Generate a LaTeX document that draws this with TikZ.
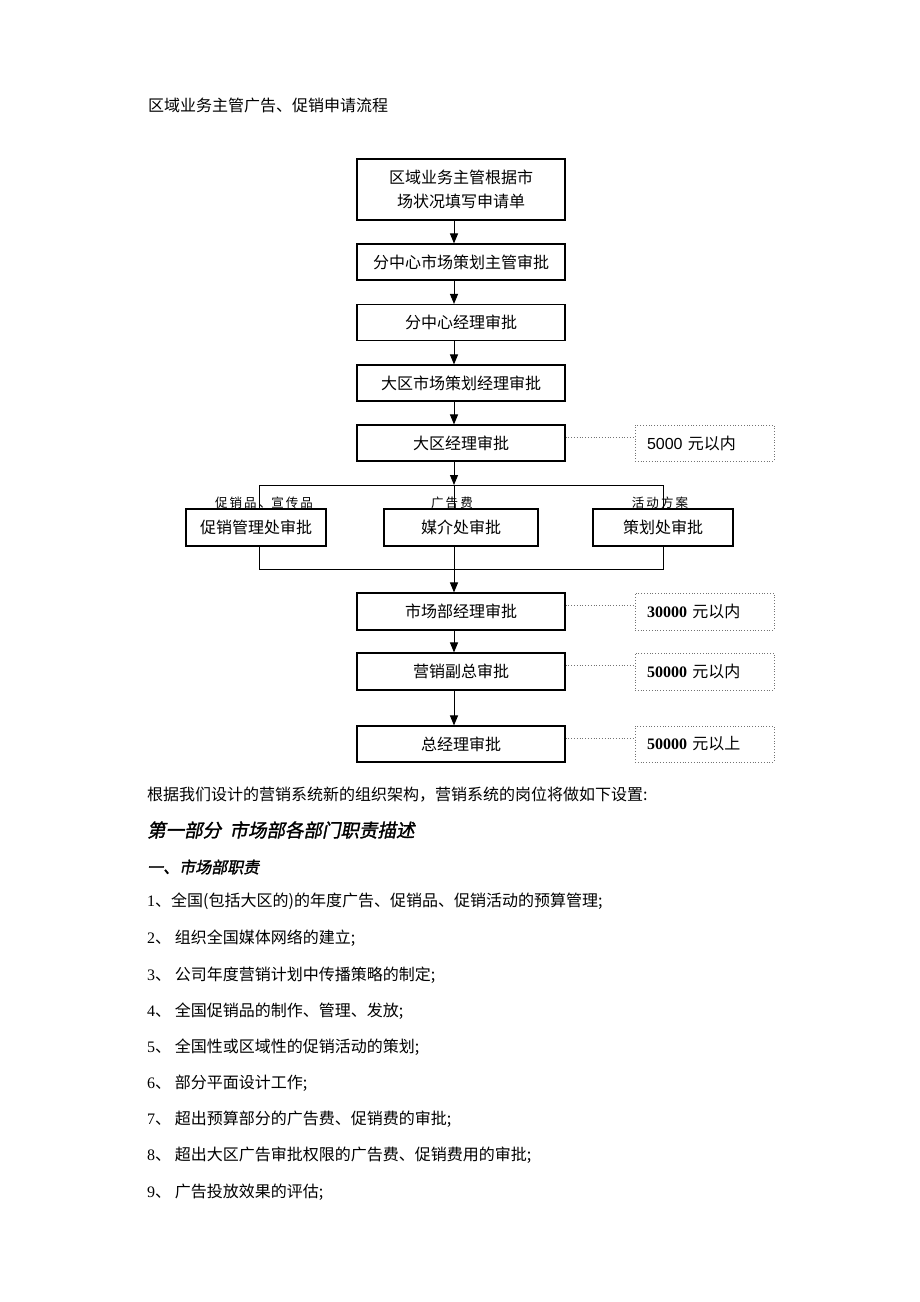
\documentclass[tikz,border=0pt]{standalone}
\usepackage{fontspec}
\setmainfont{Liberation Serif}
\setsansfont{Liberation Sans}
\newfontfamily\cjk{Noto Sans CJK SC}
\newfontfamily\cjkbi{Noto Sans CJK SC}[FakeSlant=0.2,FakeBold=1.5]
\usetikzlibrary{arrows.meta}
\tikzset{
  box/.style={draw, line width=1.1pt, minimum width=208pt, minimum height=36pt, inner sep=0pt,
              font=\cjk\fontsize{16}{24}\selectfont, align=center},
  sbox/.style={draw=black!55, dotted, line width=0.8pt, minimum height=36pt, text width=115pt,
              inner xsep=12pt, inner ysep=0pt, align=left, font=\fontsize{16}{20}\selectfont},
  lnk/.style={line width=1pt},
  arr/.style={line width=1pt, -{Triangle[length=10pt,width=8pt]}},
  dotl/.style={draw=black!55, dotted, line width=0.8pt},
  txt/.style={anchor=west, inner sep=0pt, font=\cjk\fontsize{16}{20}\selectfont},
  lab/.style={inner sep=0pt, font=\cjk\fontsize{12.5}{15}\selectfont}
}
\begin{document}
\begin{tikzpicture}[x=1pt,y=-1pt]
\useasboundingbox[fill=white] (0,0) rectangle (920,1302);

\node[txt] (title) at (148,105) {区域业务主管广告、促销申请流程};

% main column
\node[box, minimum height=61pt] (b1) at (461,189.5) {区域业务主管根据市\\场状况填写申请单};
\node[box] (b2) at (461,262) {分中心市场策划主管审批};
\node[box] (b3) at (461,322.5) {分中心经理审批};
\node[box] (b4) at (461,383) {大区市场策划经理审批};
\node[box] (b5) at (461,443) {大区经理审批};

\node[box, minimum width=140pt, minimum height=37pt] (L) at (256,527.5) {促销管理处审批};
\node[box, minimum width=154pt, minimum height=37pt] (M) at (461,527.5) {媒介处审批};
\node[box, minimum width=140pt, minimum height=37pt] (R) at (663,527.5) {策划处审批};

\node[box, minimum height=37pt] (b6) at (461,611.5) {市场部经理审批};
\node[box, minimum height=37pt] (b7) at (461,671.5) {营销副总审批};
\node[box] (b8) at (461,744) {总经理审批};

% side boxes
\node[sbox] (s1) at (704.5,443) {\sffamily 5000 {\cjk 元以内}};
\node[sbox, minimum height=37pt] (s2) at (704.5,611.5) {{\bfseries 30000} {\cjk 元以内}};
\node[sbox, minimum height=37pt] (s3) at (704.5,671.5) {{\bfseries 50000} {\cjk 元以内}};
\node[sbox] (s4) at (704.5,744) {{\bfseries 50000} {\cjk 元以上}};

% arrows main column
\draw[arr] ([xshift=-7pt]b1.south) -- ([xshift=-7pt]b2.north);
\draw[arr] ([xshift=-7pt]b2.south) -- ([xshift=-7pt]b3.north);
\draw[arr] ([xshift=-7pt]b3.south) -- ([xshift=-7pt]b4.north);
\draw[arr] ([xshift=-7pt]b4.south) -- ([xshift=-7pt]b5.north);

% branch
\coordinate (bt) at (454,485);
\coordinate (bl) at (259,485);
\coordinate (br) at (663,485);
\draw[arr] ([xshift=-7pt]b5.south) -- (bt);
\draw[lnk] (bl) -- (br);
\draw[lnk] (bl) -- (bl |- L.north);
\draw[lnk] (bt) -- (bt |- M.north);
\draw[lnk] (br) -- (br |- R.north);

\coordinate (cl) at (259,569);
\coordinate (cr) at (663,569);
\draw[lnk] (cl |- L.south) -- (cl) -- (cr) -- (cr |- R.south);
\draw[arr] ([xshift=-7pt]M.south) -- ([xshift=-7pt]b6.north);
\draw[arr] ([xshift=-7pt]b6.south) -- ([xshift=-7pt]b7.north);
\draw[arr] ([xshift=-7pt]b7.south) -- ([xshift=-7pt]b8.north);

% branch labels
\node[lab] (l1) at (264,503) {促\,销\,品\,、宣\,传\,品};
\node[lab] (l2) at (452,503) {广\,告\,费};
\node[lab] (l3) at (660,503) {活\,动\,方\,案};

% dotted links
\draw[dotl] ([yshift=6pt]b5.east) -- ([yshift=6pt]s1.west);
\draw[dotl] ([yshift=6pt]b6.east) -- ([yshift=6pt]s2.west);
\draw[dotl] ([yshift=6pt]b7.east) -- ([yshift=6pt]s3.west);
\draw[dotl] ([yshift=6pt]b8.east) -- ([yshift=6pt]s4.west);

% body text
\node[txt] (p1) at (147,795) {根据我们设计的营销系统新的组织架构，营销系统的岗位将做如下设置:};
\node[txt, font=\cjkbi\fontsize{18.5}{22}\selectfont] (h1) at (147,830) {第一部分\ \ 市场部各部门职责描述};
\node[txt, font=\cjkbi\fontsize{16}{20}\selectfont] (h2) at (147,867) {一、市场部职责};

\node[txt] (i1) at (147,901) {{\rmfamily 1}、全国(包括大区的)的年度广告、促销品、促销活动的预算管理;};
\node[txt] (i2) at (147,938) {{\rmfamily 2}、 组织全国媒体网络的建立;};
\node[txt] (i3) at (147,975) {{\rmfamily 3}、 公司年度营销计划中传播策略的制定;};
\node[txt] (i4) at (147,1011) {{\rmfamily 4}、 全国促销品的制作、管理、发放;};
\node[txt] (i5) at (147,1047) {{\rmfamily 5}、 全国性或区域性的促销活动的策划;};
\node[txt] (i6) at (147,1083) {{\rmfamily 6}、 部分平面设计工作;};
\node[txt] (i7) at (147,1119) {{\rmfamily 7}、 超出预算部分的广告费、促销费的审批;};
\node[txt] (i8) at (147,1155) {{\rmfamily 8}、 超出大区广告审批权限的广告费、促销费用的审批;};
\node[txt] (i9) at (147,1192) {{\rmfamily 9}、 广告投放效果的评估;};
\end{tikzpicture}
\end{document}
